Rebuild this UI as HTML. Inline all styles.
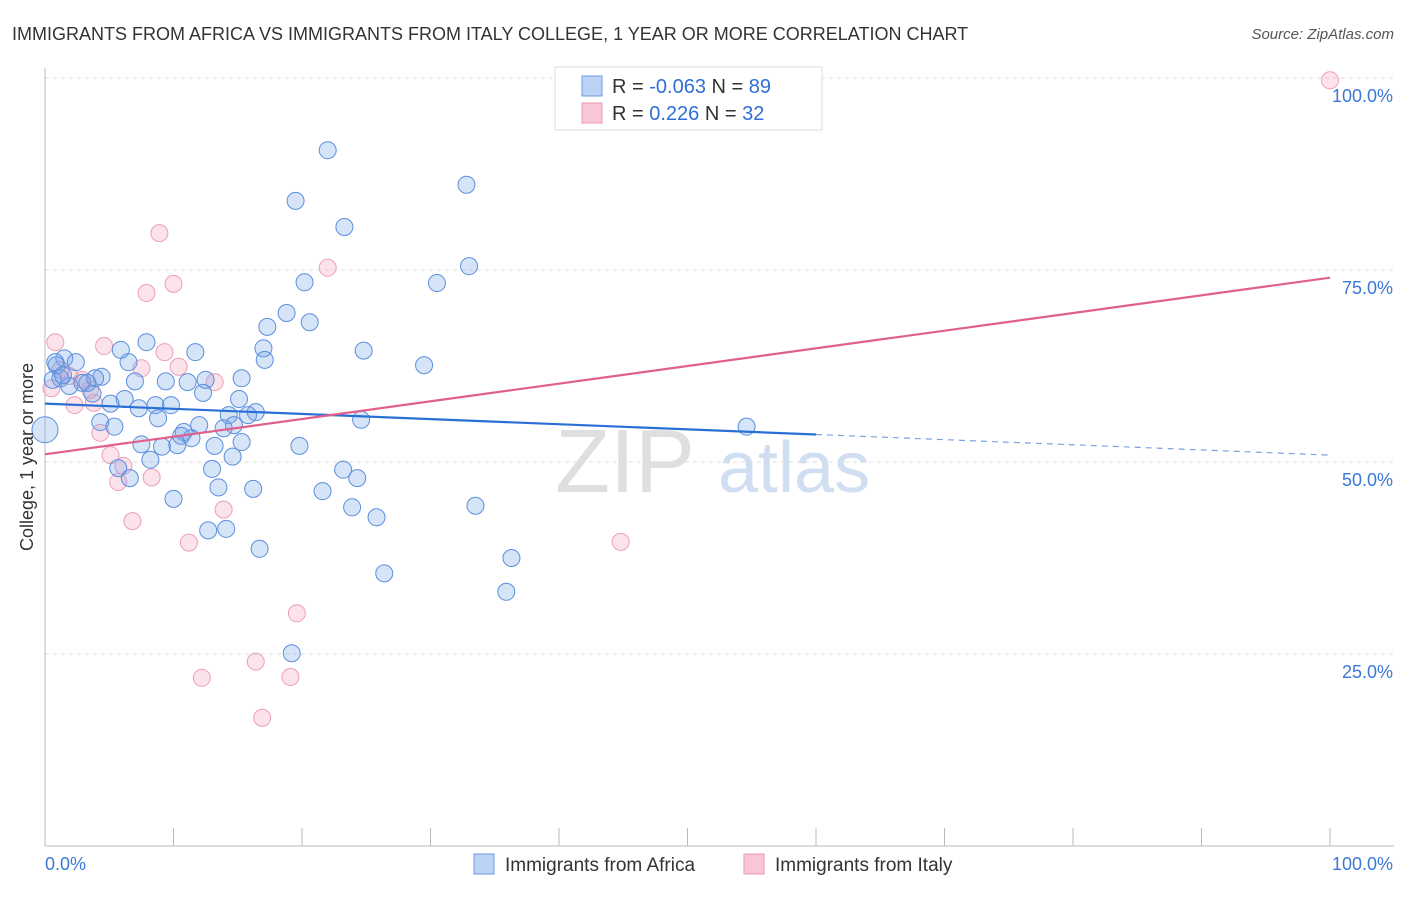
<!DOCTYPE html>
<html><head><meta charset="utf-8">
<style>
body{margin:0;background:#fff;font-family:"Liberation Sans",sans-serif;}
svg text{font-family:"Liberation Sans",sans-serif;}
</style></head><body>
<svg id="chart" width="1406" height="892" viewBox="0 0 1406 892" xmlns="http://www.w3.org/2000/svg">
<text x="12" y="40" font-size="18" fill="#333">IMMIGRANTS FROM AFRICA VS IMMIGRANTS FROM ITALY COLLEGE, 1 YEAR OR MORE CORRELATION CHART</text>
<text x="1394" y="39" font-size="15" fill="#555" font-style="italic" text-anchor="end">Source: ZipAtlas.com</text>
<g>
<text x="555" y="492" font-size="90" fill="#d8d8d8" font-family="Liberation Serif" opacity="0.8">ZIP</text>
<text x="718" y="492" font-size="72" fill="#c5d6ee" opacity="0.8">atlas</text>
</g>
<g id="grid"></g>
<g id="axes"></g>
<g id="points"></g>
<g id="trends"></g>
<text transform="translate(33,457) rotate(-90)" font-size="18" fill="#333" text-anchor="middle">College, 1 year or more</text>
<g>
<rect x="555" y="67" width="267" height="63" fill="#fff" stroke="#ddd"/>
<rect x="582" y="76" width="20" height="20" fill="#bcd3f5" stroke="#6a9be0"/>
<rect x="582" y="103" width="20" height="20" fill="#f9c6d6" stroke="#ec9ab4"/>
<text x="612" y="93" font-size="20" fill="#333">R = <tspan fill="#2f6fd6">-0.063</tspan>   N = <tspan fill="#2f6fd6">89</tspan></text>
<text x="612" y="120" font-size="20" fill="#333">R =   <tspan fill="#2f6fd6">0.226</tspan>   N = <tspan fill="#2f6fd6">32</tspan></text>
</g>
<g>
<rect x="474" y="854" width="20" height="20" fill="#bcd3f5" stroke="#6a9be0"/>
<text x="505" y="871" font-size="19" fill="#333">Immigrants from Africa</text>
<rect x="744" y="854" width="20" height="20" fill="#f9c6d6" stroke="#ec9ab4"/>
<text x="775" y="871" font-size="19" fill="#333">Immigrants from Italy</text>
</g>
</svg>
<script>
const yTicks=[25,50,75,100];
const yTickLabels=["25.0%","50.0%","75.0%","100.0%"];
const xTicks=[0,10,20,30,40,50,60,70,80,90,100];
const africaX=[22.0,19.5,32.8,23.3,33.0,30.5,20.2,18.8,20.6,17.3,7.9,17.0,24.8,11.7,5.9,17.1,29.5,6.5,1.5,2.4,0.9,1.2,4.4,7.0,9.4,11.1,15.3,12.5,2.9,3.7,12.3,15.1,5.1,6.2,7.3,8.6,9.8,8.8,16.4,14.3,14.7,15.8,4.3,5.4,24.6,12.0,13.9,10.8,10.6,11.4,7.5,9.1,10.3,13.2,15.3,19.8,8.2,14.6,5.7,13.0,23.2,6.6,24.3,13.5,16.2,21.6,10.0,33.5,23.9,25.8,12.7,14.1,16.7,36.3,26.4,35.9,19.2,54.6,0.0,0.6,0.8,1.9,3.9,3.3,1.4];
const africaY=[90.6,84.0,86.1,80.6,75.5,73.3,73.4,69.4,68.2,67.6,65.6,64.8,64.5,64.3,64.6,63.3,62.6,63.0,63.5,63.0,62.6,60.9,61.1,60.5,60.5,60.4,60.9,60.7,60.3,58.9,59.0,58.2,57.6,58.2,57.0,57.4,57.4,55.7,56.5,56.1,54.8,56.1,55.2,54.6,55.5,54.8,54.4,53.9,53.4,53.1,52.3,52.0,52.2,52.1,52.6,52.1,50.3,50.7,49.2,49.1,49.0,47.9,47.9,46.7,46.5,46.2,45.2,44.3,44.1,42.8,41.1,41.3,38.7,37.5,35.5,33.1,25.1,54.6,54.2,60.7,63.0,59.9,60.9,60.3,61.3];
const italyX=[100,8.9,22.0,10.0,7.9,0.8,4.6,9.3,7.5,10.4,13.2,1.9,2.9,0.5,3.5,3.8,2.3,4.3,5.1,6.1,5.7,8.3,6.8,13.9,11.2,44.8,19.6,16.4,19.1,12.2,16.9,1.2];
const italyY=[99.7,79.8,75.3,73.2,72.0,65.6,65.1,64.3,62.2,62.4,60.4,61.2,60.7,59.6,59.4,57.7,57.4,53.8,50.9,49.5,47.4,48.0,42.3,43.8,39.5,39.6,30.3,24.0,22.0,21.9,16.7,62.0];
const africaTrend=[57.6,50.9];
const italyTrend=[51.0,74.0];
const africaSolidEnd=60;

const X0=45,X1=1330,Y0=846,Y100=78;
const sx=v=>X0+(X1-X0)*v/100;
const sy=v=>Y0-(Y0-Y100)*v/100;
const NS="http://www.w3.org/2000/svg";
function mk(tag,attrs,parent){const e=document.createElementNS(NS,tag);for(const k in attrs)e.setAttribute(k,attrs[k]);parent.appendChild(e);return e;}
const grid=document.getElementById('grid'),axes=document.getElementById('axes'),pts=document.getElementById('points'),tr=document.getElementById('trends');
yTicks.forEach((t,i)=>{
  const l=mk('line',{x1:X0,x2:1394,y1:sy(t),y2:sy(t),stroke:'#ddd','stroke-dasharray':'4,4'},grid);
  
  
  const tx=mk('text',{x:1393,y:sy(t)+24,'font-size':18,fill:'#3b78d8','text-anchor':'end'},axes);
  tx.textContent=yTickLabels[i];
  
  
});
const xa=mk('line',{x1:X0,x2:1394,y1:Y0,y2:Y0,stroke:'#bbb'},axes);


const ya=mk('line',{x1:X0,x2:X0,y1:68,y2:Y0,stroke:'#bbb'},axes);


xTicks.forEach(t=>{
  const l=mk('line',{x1:sx(t),x2:sx(t),y1:Y0,y2:Y0-18,stroke:'#bbb'},axes);
  
  
});
const xl0=mk('text',{x:45,y:870,'font-size':18,fill:'#3b78d8'},axes);xl0.textContent='0.0%';


const xl1=mk('text',{x:1393,y:870,'font-size':18,fill:'#3b78d8','text-anchor':'end'},axes);xl1.textContent='100.0%';


italyX.forEach((x,i)=>{
  const c=mk('circle',{cx:sx(x),cy:sy(italyY[i]),r:8.5,fill:'rgba(244,160,188,0.3)',stroke:'#eba0b8','stroke-width':1},pts);
  
  
});
africaX.forEach((x,i)=>{
  const c=mk('circle',{cx:sx(x),cy:sy(africaY[i]),r:(i==78?13:8.5),fill:'rgba(120,165,232,0.3)',stroke:'#5b8fde','stroke-width':1},pts);
  
  
});
const ay=x=>africaTrend[0]+(africaTrend[1]-africaTrend[0])*x/100;
const b1=mk('line',{x1:sx(0),y1:sy(ay(0)),x2:sx(africaSolidEnd),y2:sy(ay(africaSolidEnd)),stroke:'#2a6fd6','stroke-width':2.2},tr);


const b2=mk('line',{x1:sx(africaSolidEnd),y1:sy(ay(africaSolidEnd)),x2:sx(100),y2:sy(ay(100)),stroke:'#7aa3e0','stroke-width':1.2,'stroke-dasharray':'6,5'},tr);


const p1=mk('line',{x1:sx(0),y1:sy(italyTrend[0]),x2:sx(100),y2:sy(italyTrend[1]),stroke:'#e0608c','stroke-width':2.2},tr);


</script>
</body></html>
